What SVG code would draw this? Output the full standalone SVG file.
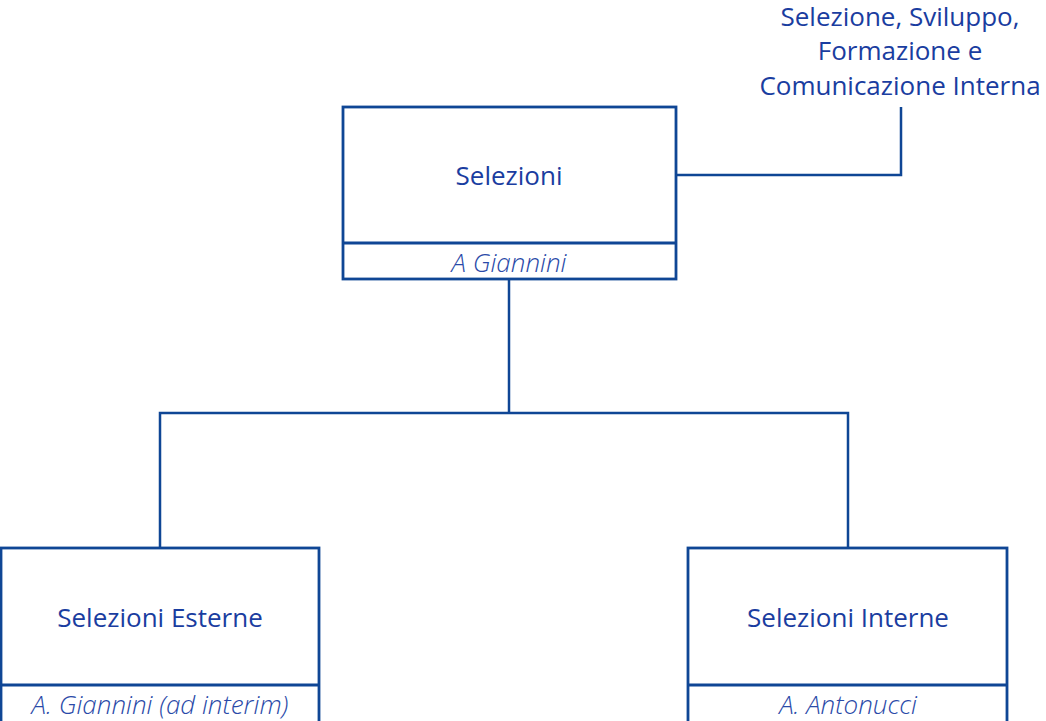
<svg xmlns="http://www.w3.org/2000/svg" width="1046" height="721" viewBox="0 0 1046 721">
<style>
.box{fill:#fff;stroke:#0f4695;stroke-width:2.8}
.ln{fill:none;stroke:#0f4695;stroke-width:2.5}
.t{font-family:"Open Sans",sans-serif;font-size:26px;fill:#1a3da0;text-anchor:middle}
.s{font-family:"Open Sans",sans-serif;font-size:26px;font-style:italic;font-weight:300;fill:#2a4aa8;text-anchor:middle}
</style>
<rect width="1046" height="721" fill="#fff"/>
<g id="connectors">
<polyline class="ln" points="509,279 509,413"/>
<polyline class="ln" points="160,548 160,413 848,413 848,548"/>
<polyline class="ln" points="676,175 901,175 901,107"/>
</g>
<g id="label-top">
<text class="t" x="900" y="26">Selezione, Sviluppo,</text>
<text class="t" x="900" y="60">Formazione e</text>
<text class="t" x="900" y="95">Comunicazione Interna</text>
</g>
<g id="node-selezioni">
<rect class="box" x="343" y="107" width="333" height="172"/>
<line class="box" x1="343" y1="243" x2="676" y2="243"/>
<text class="t" x="509" y="185">Selezioni</text>
<text class="s" x="509" y="272">A Giannini</text>
</g>
<g id="node-esterne">
<rect class="box" x="1" y="548" width="318" height="180"/>
<line class="box" x1="1" y1="685" x2="319" y2="685"/>
<text class="t" x="160" y="627">Selezioni Esterne</text>
<text class="s" x="160" y="714">A. Giannini (ad interim)</text>
</g>
<g id="node-interne">
<rect class="box" x="688" y="548" width="319" height="180"/>
<line class="box" x1="688" y1="685" x2="1007" y2="685"/>
<text class="t" x="848" y="627">Selezioni Interne</text>
<text class="s" x="848" y="714">A. Antonucci</text>
</g>
</svg>
